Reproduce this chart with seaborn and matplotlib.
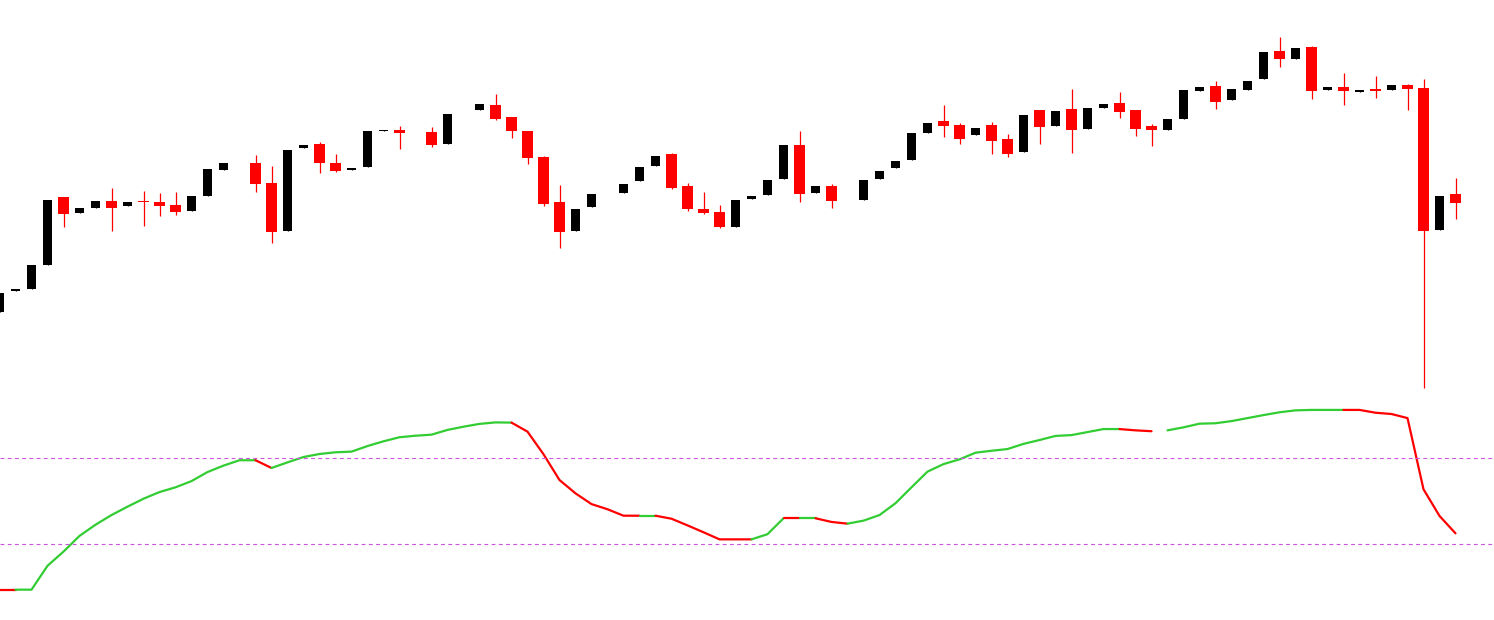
import numpy as np
import pandas as pd
import matplotlib
matplotlib.use("Agg")
import matplotlib.pyplot as plt
import seaborn as sns

nan = np.nan

# ---- price bars (O, H, L, C); NaN = no bar drawn ----
opens = [1.1988, 1.2009, 1.2011, 1.2035, 1.2103, 1.2087, 1.2092, 1.2099, 1.2094, 1.2099,
         1.2098, 1.2095, 1.2089, 1.2104, 1.2130, nan, 1.2137, 1.2117, 1.2069, 1.2152,
         1.2156, 1.2137, 1.2130, 1.2133, 1.2169, 1.2170, nan, 1.2168, 1.2156, nan,
         1.2190, 1.2195, 1.2183, 1.2169, 1.2143, 1.2098, 1.2069, 1.2093, nan, 1.2107,
         1.2119, 1.2134, 1.2146, 1.2114, 1.2091, 1.2088, 1.2073, 1.2101, 1.2105, 1.2121,
         1.2155, 1.2107, 1.2114, nan, 1.2100, 1.2121, 1.2132, 1.2140, 1.2167, 1.2179,
         1.2175, 1.2165, 1.2175, 1.2161, 1.2148, 1.2190, 1.2174, 1.2191, 1.2171, 1.2192,
         1.2197, 1.2190, 1.2174, 1.2170, 1.2181, 1.2209, 1.2214, 1.2200, 1.2210, 1.2221,
         1.2249, 1.2241, 1.2253, 1.2210, 1.2213, 1.2208, 1.2211, 1.2210, 1.2215, 1.2212,
         1.2070, 1.2106]
closes = [1.2007, 1.2011, 1.2035, 1.2100, 1.2086, 1.2092, 1.2099, 1.2092, 1.2098, 1.2098,
          1.2094, 1.2088, 1.2104, 1.2131, 1.2137, nan, 1.2116, 1.2068, 1.2150, 1.2155,
          1.2137, 1.2129, 1.2132, 1.2169, 1.2170, 1.2167, nan, 1.2155, 1.2186, nan,
          1.2196, 1.2181, 1.2169, 1.2142, 1.2096, 1.2068, 1.2091, 1.2106, nan, 1.2116,
          1.2133, 1.2144, 1.2112, 1.2091, 1.2087, 1.2073, 1.2100, 1.2104, 1.2120, 1.2155,
          1.2106, 1.2114, 1.2099, nan, 1.2120, 1.2129, 1.2139, 1.2167, 1.2177, 1.2174,
          1.2161, 1.2172, 1.2159, 1.2146, 1.2185, 1.2173, 1.2189, 1.2170, 1.2192, 1.2196,
          1.2188, 1.2171, 1.2170, 1.2181, 1.2210, 1.2213, 1.2198, 1.2211, 1.2219, 1.2248,
          1.2241, 1.2252, 1.2209, 1.2213, 1.2209, 1.2210, 1.2209, 1.2215, 1.2211, 1.2069,
          1.2104, 1.2097]
highs = [1.2007, 1.2011, 1.2035, 1.2100, 1.2103, 1.2092, 1.2099, 1.2112, 1.2098, 1.2109,
         1.2107, 1.2108, 1.2104, 1.2131, 1.2137, nan, 1.2145, 1.2134, 1.2150, 1.2155,
         1.2158, 1.2146, 1.2132, 1.2169, 1.2170, 1.2174, nan, 1.2173, 1.2186, nan,
         1.2196, 1.2206, 1.2183, 1.2169, 1.2144, 1.2115, 1.2091, 1.2106, nan, 1.2116,
         1.2133, 1.2144, 1.2147, 1.2117, 1.2108, 1.2095, 1.2100, 1.2104, 1.2120, 1.2155,
         1.2169, 1.2114, 1.2116, nan, 1.2120, 1.2129, 1.2139, 1.2167, 1.2177, 1.2195,
         1.2177, 1.2172, 1.2178, 1.2166, 1.2185, 1.2190, 1.2189, 1.2211, 1.2192, 1.2196,
         1.2208, 1.2190, 1.2176, 1.2181, 1.2210, 1.2213, 1.2219, 1.2211, 1.2219, 1.2248,
         1.2263, 1.2252, 1.2254, 1.2213, 1.2227, 1.2210, 1.2224, 1.2215, 1.2216, 1.2221,
         1.2104, 1.2122]
lows = [1.1988, 1.2009, 1.2011, 1.2035, 1.2073, 1.2087, 1.2092, 1.2069, 1.2094, 1.2074,
        1.2084, 1.2085, 1.2089, 1.2104, 1.2130, nan, 1.2108, 1.2057, 1.2069, 1.2152,
        1.2127, 1.2128, 1.2130, 1.2133, 1.2169, 1.2151, nan, 1.2153, 1.2156, nan,
        1.2190, 1.2180, 1.2162, 1.2136, 1.2094, 1.2052, 1.2069, 1.2093, nan, 1.2107,
        1.2119, 1.2134, 1.2111, 1.2089, 1.2086, 1.2072, 1.2073, 1.2101, 1.2105, 1.2121,
        1.2098, 1.2107, 1.2092, nan, 1.2100, 1.2121, 1.2132, 1.2140, 1.2167, 1.2163,
        1.2156, 1.2165, 1.2146, 1.2143, 1.2148, 1.2156, 1.2174, 1.2147, 1.2171, 1.2192,
        1.2182, 1.2164, 1.2154, 1.2170, 1.2181, 1.2209, 1.2191, 1.2200, 1.2210, 1.2221,
        1.2233, 1.2241, 1.2201, 1.2210, 1.2195, 1.2208, 1.2202, 1.2210, 1.2190, 1.1912,
        1.2070, 1.2081]

# ---- oscillator (0..100) ----
osc = [8.9, 8.9, 8.9, 20.0, 26.6, 33.9, 39.1, 43.6, 47.5, 51.2,
       54.3, 56.5, 59.4, 63.6, 66.6, 69.1, 69.1, 65.5, 68.1, 70.6,
       72.0, 72.8, 73.1, 75.7, 77.9, 79.8, 80.5, 81.0, 83.2, 84.7,
       86.0, 86.7, 86.6, 82.4, 71.9, 59.9, 53.7, 48.7, 46.3, 43.3,
       43.3, 43.3, 41.9, 38.8, 35.6, 32.3, 32.3, 32.3, 34.7, 42.1,
       42.1, 42.1, 40.4, 39.6, 41.0, 43.6, 49.1, 56.5, 63.8, 67.3,
       69.5, 72.6, 73.5, 74.3, 76.7, 78.5, 80.4, 80.8, 82.2, 83.6,
       83.6, 83.0, 82.6, 83.0, 84.4, 86.1, 86.3, 87.3, 88.7, 90.1,
       91.4, 92.3, 92.5, 92.5, 92.5, 92.5, 91.2, 90.6, 88.7, 55.6,
       43.2, 35.1]
# segment state between consecutive points: G = rising buffer, R = falling buffer, - = empty
seg_state = ("R" + "G" * 15 + "R" + "G" * 15 + "R" * 8 + "G" + "R" * 6 + "G" * 2 + "R" + "G"
             + "R" * 2 + "G" * 17 + "R" * 2 + "-" + "G" * 11 + "R" * 7)
levels = [70, 30]

BULL = "#000000"
BEAR = "#FF0000"
UPC = "#32CD32"
DNC = "#FF0000"
LEVC = "#CC55DD"

sns.set_theme(style="white")

W, H = 1494, 620
fig = plt.figure(figsize=(W / 100, H / 100), dpi=100)
fig.patch.set_facecolor("white")
top_px = 400
ax1 = fig.add_axes([0, (H - top_px) / H, 1, top_px / H])
ax2 = fig.add_axes([0, 0, 1, (H - top_px) / H])

df = pd.DataFrame({"o": opens, "h": highs, "l": lows, "c": closes})
df["i"] = np.arange(len(df))
df = df.dropna()
up = df[df.c >= df.o]
dn = df[df.c < df.o]

ax1.bar(up.i, up.c - up.o, bottom=up.o, width=9 / 16, color=BULL, linewidth=0)
ax1.vlines(dn.i, dn.l, dn.h, color=BEAR, linewidth=0.9)
ax1.bar(dn.i, dn.o - dn.c, bottom=dn.c, width=11 / 16, color=BEAR, linewidth=0)
ax1.vlines(up.i, up.l, up.h, color=BULL, linewidth=0.9)

px = 16.0
xlo = 0.5 / px
xhi = xlo + W / px
for ax in (ax1, ax2):
    ax.set_xlim(xlo, xhi)
    ax.set_axis_off()
ax1.set_ylim(1.1900, 1.2300)

# oscillator
x = np.arange(len(osc))
runs = []
start = 0
for j in range(1, len(seg_state) + 1):
    if j == len(seg_state) or seg_state[j] != seg_state[start]:
        runs.append((seg_state[start], start, j))
        start = j
for state, a, b in runs:
    if state == "-":
        continue
    sub = pd.DataFrame({"x": x[a:b + 1], "v": osc[a:b + 1]})
    sns.lineplot(data=sub, x="x", y="v", ax=ax2, color=UPC if state == "G" else DNC,
                 linewidth=1.6, sort=False, estimator=None, legend=False)
for lv in levels:
    ax2.axhline(lv, color=LEVC, linewidth=0.8, linestyle=(0, (3.5, 3)))
ax2.set_ylim((608.8 - H) / 2.15, (608.8 - top_px) / 2.15)
ax2.set_axis_off()

fig.savefig("out.png", dpi=100, facecolor="white")
